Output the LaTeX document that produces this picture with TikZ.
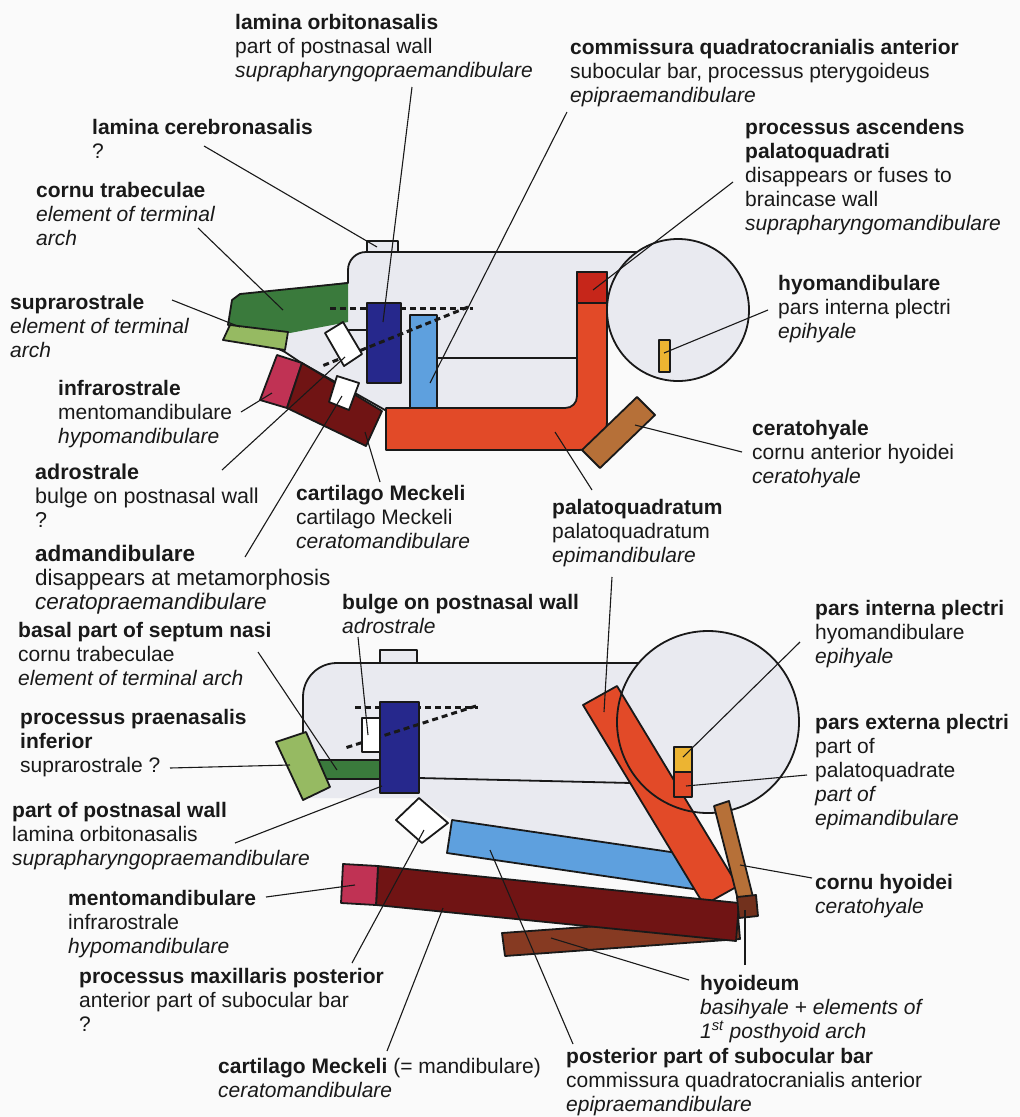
\documentclass[tikz,border=0pt]{standalone}
\usepackage{fontspec}
\setmainfont{Liberation Sans}

\definecolor{paper}{RGB}{250,250,250}
\definecolor{capsule}{RGB}{233,234,240}
\definecolor{ink}{RGB}{25,25,25}
\definecolor{trabgreen}{RGB}{58,122,60}
\definecolor{rostgreen}{RGB}{150,186,98}
\definecolor{mentopink}{RGB}{192,50,84}
\definecolor{meckelred}{RGB}{112,20,20}
\definecolor{orbitblue}{RGB}{38,40,140}
\definecolor{subocblue}{RGB}{94,160,222}
\definecolor{pqred}{RGB}{226,74,40}
\definecolor{ascred}{RGB}{198,38,26}
\definecolor{hyoidbrown}{RGB}{182,112,56}
\definecolor{basibrown}{RGB}{134,58,34}
\definecolor{plectyellow}{RGB}{236,180,50}

\begin{document}
\begin{tikzpicture}[x=1pt,y=-1pt]
\tikzset{
  piece/.style={draw=ink,line width=1.8pt,line join=round},
  hidden/.style={draw=ink,line width=3pt,dash pattern=on 6pt off 4pt},
  leader/.style={draw=ink,line width=1.1pt},
  lbl/.style={anchor=north west,inner sep=0pt,align=left,text=ink,font=\fontsize{21}{24}\selectfont}
}
\useasboundingbox (0,0) rectangle (1020,1117);
\fill[paper] (0,0) rectangle (1020,1117);

% ---------- upper skull (larva) ----------
\filldraw[piece,fill=capsule] (640,252) -- (366,252) .. controls (356,252) and (348,260) .. (348,270)
  -- (348,283) -- (238,296) -- (228,325) -- (285,352) -- (300,362) -- (385,410) -- (600,410)
  -- (600,300) -- (640,300) -- cycle;
\filldraw[piece,fill=capsule] (367,241) rectangle (398,252);
\filldraw[piece,fill=capsule] (678,310) circle[radius=71pt];
% cornu trabeculae and suprarostrale
\fill[trabgreen] (232,300) -- (240,294) -- (348,283) -- (348,322) -- (290,333) -- (228,325) -- cycle;
\draw[piece] (348,283) -- (240,294) -- (232,300) -- (228,325);
\filldraw[piece,fill=rostgreen] (230,325) -- (288,332) -- (285,350) -- (223,340) -- cycle;
\draw[hidden] (330,308) -- (473,308);
\filldraw[piece,fill=orbitblue] (367,303) rectangle (401,383);
\filldraw[piece,fill=subocblue] (410,315) rectangle (437,408);
\draw[piece] (437,358) -- (577,358);
\draw[piece] (348,330) -- (367,330);
% palatoquadratum with processus ascendens
\filldraw[piece,fill=pqred] (577,272) -- (607,272) -- (607,422) .. controls (607,437) and (594,450) .. (579,450)
  -- (386,450) -- (386,408) -- (565,408) .. controls (572,408) and (577,403) .. (577,396) -- cycle;
\filldraw[piece,fill=ascred] (577,272) rectangle (607,303);
\draw[hidden] (468,307) -- (322,366);
% lower jaw
\filldraw[piece,fill=mentopink] (277,355) -- (302,363) -- (287,408) -- (260,400) -- cycle;
\filldraw[piece,fill=meckelred] (302,363) -- (382,411) -- (366,446) -- (287,408) -- cycle;
\filldraw[piece,fill=white] (325,333) -- (343,322) -- (362,354) -- (344,366) -- cycle;
\filldraw[piece,fill=white] (337,376) -- (359,383) -- (349,410) -- (329,402) -- cycle;
% hyoid arch
\filldraw[piece,fill=hyoidbrown] (582,450) -- (637,397) -- (655,415) -- (600,468) -- cycle;
\filldraw[piece,fill=plectyellow] (659,340) rectangle (670,372);

% ---------- lower skull (frog) ----------
\fill[capsule] (303,697) .. controls (303,678) and (318,663) .. (337,663) -- (650,663) -- (650,760)
  -- (700,862) -- (452,820) -- (420,798) -- (303,798) -- cycle;
\draw[piece] (303,790) -- (303,697) .. controls (303,678) and (318,663) .. (337,663) -- (650,663);
\filldraw[piece,fill=capsule] (380,650) rectangle (417,663);
\fill[capsule] (708,722) circle[radius=91pt];
\draw[piece] (419,778) -- (674,784);
\draw[hidden] (355,707) -- (478,707);
\filldraw[piece,fill=orbitblue] (380,702) rectangle (419,793);
\draw[hidden] (476,706) -- (345,748);
\filldraw[piece,fill=white] (362,718) rectangle (380,752);
\filldraw[piece,fill=trabgreen] (305,760) rectangle (380,779);
\filldraw[piece,fill=rostgreen] (276,742) -- (306,732) -- (330,787) -- (303,800) -- cycle;
\filldraw[piece,fill=white] (396,820) -- (419,798) -- (448,823) -- (422,843) -- cycle;
\filldraw[piece,fill=subocblue] (452,820) -- (705,857) -- (700,890) -- (447,853) -- cycle;
\filldraw[piece,fill=pqred] (583,705) -- (617,686) -- (738,886) -- (704,905) -- cycle;
\draw[piece] (708,722) circle[radius=91pt];
\filldraw[piece,fill=plectyellow] (674,747) rectangle (692,772);
\filldraw[piece,fill=pqred] (674,772) rectangle (692,797);
\filldraw[piece,fill=basibrown] (502,933) -- (738,916) -- (740,939) -- (505,956) -- cycle;
\filldraw[piece,fill=meckelred] (378,866) -- (739,903) -- (736,941) -- (376,905) -- cycle;
\filldraw[piece,fill=mentopink] (343,864) -- (378,866) -- (376,905) -- (341,903) -- cycle;
\filldraw[piece,fill=hyoidbrown] (714,806) -- (729,801) -- (753,897) -- (738,900) -- cycle;
\filldraw[piece,fill=basibrown!85!black] (737,897) -- (756,895) -- (758,916) -- (739,918) -- cycle;

% ---------- labels, upper skull ----------
\node[lbl] (l_orbito) at (235,14) {\textbf{lamina orbitonasalis}\\part of postnasal wall\\\textit{suprapharyngopraemandibulare}};
\node[lbl] (l_cerebro) at (92,119) {\textbf{lamina cerebronasalis}\\?};
\node[lbl] (l_cornu) at (36,182) {\textbf{cornu trabeculae}\\\textit{element of terminal}\\\textit{arch}};
\node[lbl] (l_supra) at (10,294) {\textbf{suprarostrale}\\\textit{element of terminal}\\\textit{arch}};
\node[lbl] (l_infra) at (58,380) {\textbf{infrarostrale}\\mentomandibulare\\\textit{hypomandibulare}};
\node[lbl,font=\fontsize{21.5}{24}\selectfont] (l_adro) at (35,464) {\textbf{adrostrale}\\bulge on postnasal wall\\?};
\node[lbl,font=\fontsize{22.5}{24}\selectfont] (l_admand) at (35,545) {\textbf{admandibulare}\\disappears at metamorphosis\\\textit{ceratopraemandibulare}};
\node[lbl] (l_meckel) at (296,485) {\textbf{cartilago Meckeli}\\cartilago Meckeli\\\textit{ceratomandibulare}};
\node[lbl] (l_pq) at (552,499) {\textbf{palatoquadratum}\\palatoquadratum\\\textit{epimandibulare}};
\node[lbl] (l_cerato) at (752,420) {\textbf{ceratohyale}\\cornu anterior hyoidei\\\textit{ceratohyale}};
\node[lbl] (l_hyomand) at (778,275) {\textbf{hyomandibulare}\\pars interna plectri\\\textit{epihyale}};
\node[lbl] (l_commis) at (570,39) {\textbf{commissura quadratocranialis anterior}\\subocular bar, processus pterygoideus\\\textit{epipraemandibulare}};
\node[lbl] (l_ascend) at (745,119) {\textbf{processus ascendens}\\\textbf{palatoquadrati}\\disappears or fuses to\\braincase wall\\\textit{suprapharyngomandibulare}};

% ---------- labels, lower skull ----------
\node[lbl] (l_bulge) at (342,594) {\textbf{bulge on postnasal wall}\\\textit{adrostrale}};
\node[lbl] (l_septum) at (18,622) {\textbf{basal part of septum nasi}\\cornu trabeculae\\\textit{element of terminal arch}};
\node[lbl] (l_praenas) at (20,709) {\textbf{processus praenasalis}\\\textbf{inferior}\\suprarostrale ?};
\node[lbl] (l_postnas) at (12,802) {\textbf{part of postnasal wall}\\lamina orbitonasalis\\\textit{suprapharyngopraemandibulare}};
\node[lbl] (l_mento) at (68,890) {\textbf{mentomandibulare}\\infrarostrale\\\textit{hypomandibulare}};
\node[lbl] (l_maxill) at (79,968) {\textbf{processus maxillaris posterior}\\anterior part of subocular bar\\?};
\node[lbl] (l_mandib) at (218,1058) {\textbf{cartilago Meckeli} (= mandibulare)\\\textit{ceratomandibulare}};
\node[lbl] (l_subpost) at (566,1048) {\textbf{posterior part of subocular bar}\\commissura quadratocranialis anterior\\\textit{epipraemandibulare}};
\node[lbl] (l_hyoid) at (700,975) {\textbf{hyoideum}\\\textit{basihyale + elements of}\\\textit{1\textsuperscript{st} posthyoid arch}};
\node[lbl] (l_interna) at (815,600) {\textbf{pars interna plectri}\\hyomandibulare\\\textit{epihyale}};
\node[lbl] (l_externa) at (815,714) {\textbf{pars externa plectri}\\part of\\palatoquadrate\\\textit{part of}\\\textit{epimandibulare}};
\node[lbl] (l_cornuhy) at (815,874) {\textbf{cornu hyoidei}\\\textit{ceratohyale}};

% leader ends
\coordinate (s_orbito) at (412,87);   \coordinate (t_orbito) at (383,322);
\coordinate (s_cerebro) at (204,146); \coordinate (t_cerebro) at (377,247);
\coordinate (s_cornu) at (198,228);   \coordinate (t_cornu) at (283,310);
\coordinate (s_supra) at (172,300);   \coordinate (t_supra) at (240,327);
\coordinate (s_infra) at (241,412);   \coordinate (t_infra) at (272,393);
\coordinate (s_adro) at (222,470);    \coordinate (t_adro) at (345,357);
\coordinate (s_admand) at (245,557);  \coordinate (t_admand) at (342,396);
\coordinate (s_meckel) at (380,482);  \coordinate (t_meckel) at (365,432);
\coordinate (s_pq) at (592,490);      \coordinate (t_pq) at (555,432);
\coordinate (s_pqlow) at (612,577);   \coordinate (t_pqlow) at (604,712);
\coordinate (s_cerato) at (742,452);  \coordinate (t_cerato) at (635,425);
\coordinate (s_hyomand) at (768,310); \coordinate (t_hyomand) at (664,353);
\coordinate (s_commis) at (567,112);  \coordinate (t_commis) at (430,383);
\coordinate (s_ascend) at (733,182);  \coordinate (t_ascend) at (593,290);
\coordinate (s_bulge) at (358,637);   \coordinate (t_bulge) at (368,735);
\coordinate (s_septum) at (258,652);  \coordinate (t_septum) at (337,770);
\coordinate (s_praenas) at (170,768); \coordinate (t_praenas) at (290,765);
\coordinate (s_postnas) at (235,843); \coordinate (t_postnas) at (382,786);
\coordinate (s_mento) at (266,897);   \coordinate (t_mento) at (355,885);
\coordinate (s_maxill) at (352,963);  \coordinate (t_maxill) at (424,830);
\coordinate (s_mandib) at (387,1051); \coordinate (t_mandib) at (443,908);
\coordinate (s_subpost) at (573,1044); \coordinate (t_subpost) at (490,850);
\coordinate (s_hyoid) at (689,980);   \coordinate (t_hyoid) at (551,938);
\coordinate (s_hyoidb) at (745,965);  \coordinate (t_hyoidb) at (745,910);
\coordinate (s_interna) at (800,642); \coordinate (t_interna) at (683,757);
\coordinate (s_externa) at (807,775); \coordinate (t_externa) at (686,786);
\coordinate (s_cornuhy) at (812,878); \coordinate (t_cornuhy) at (740,865);

\foreach \p in {orbito,cerebro,cornu,supra,infra,adro,admand,meckel,pq,pqlow,cerato,hyomand,commis,ascend,
  bulge,septum,praenas,postnas,mento,maxill,mandib,subpost,hyoid,hyoidb,interna,externa,cornuhy}
  \draw[leader] (s_\p) -- (t_\p);
\end{tikzpicture}
\end{document}
